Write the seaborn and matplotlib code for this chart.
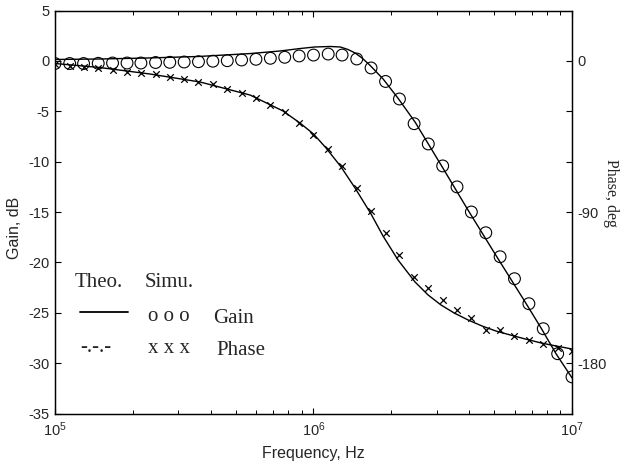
import matplotlib
matplotlib.use("Agg")
import matplotlib.pyplot as plt
import seaborn as sns
import pandas as pd
from matplotlib.ticker import LogLocator, NullFormatter, FixedLocator, FixedFormatter

# ---- data -------------------------------------------------------------
# simulated sweep frequencies (Hz)
sweep_hz = [1.00e5, 1.14e5, 1.29e5, 1.47e5, 1.67e5, 1.90e5, 2.15e5, 2.45e5,
            2.78e5, 3.16e5, 3.59e5, 4.08e5, 4.64e5, 5.27e5, 5.99e5, 6.81e5,
            7.74e5, 8.80e5, 1.00e6, 1.14e6, 1.29e6, 1.47e6, 1.67e6, 1.90e6,
            2.15e6, 2.45e6, 2.78e6, 3.16e6, 3.59e6, 4.08e6, 4.64e6, 5.27e6,
            5.99e6, 6.81e6, 7.74e6, 8.80e6, 1.00e7]
sim_gain_db = [-0.26, -0.26, -0.26, -0.24, -0.21, -0.21, -0.21, -0.16,
               -0.14, -0.11, -0.08, -0.03, 0.02, 0.09, 0.16, 0.26,
               0.36, 0.49, 0.58, 0.68, 0.58, 0.19, -0.70, -2.04,
               -3.78, -6.23, -8.24, -10.42, -12.50, -14.99, -17.05, -19.43,
               -21.61, -24.09, -26.57, -29.05, -31.35]
sim_phase_deg = [-1.8, -3.0, -3.8, -4.4, -5.4, -6.4, -7.4, -8.0,
                 -9.4, -11.0, -12.4, -14.0, -16.6, -19.3, -22.3, -26.2,
                 -30.4, -36.8, -44.1, -52.4, -62.3, -75.7, -89.6, -102.4,
                 -115.5, -128.4, -135.3, -142.6, -148.2, -153.2, -159.9, -160.2,
                 -163.8, -166.4, -168.5, -170.9, -172.5]

# theoretical response
theo_gain_hz = [1.0e5, 1.5e5, 2.3e5, 3.6e5, 5.7e5, 7.4e5, 8.9e5, 1.01e6,
                1.16e6, 1.27e6, 1.36e6, 1.45e6, 1.54e6, 1.65e6, 1.86e6, 2.12e6,
                2.47e6, 3.11e6, 3.96e6, 5.08e6, 6.58e6, 7.59e6, 8.67e6, 1.0e7]
theo_gain_db = [0.14, 0.19, 0.29, 0.44, 0.73, 0.98, 1.23, 1.38,
                1.43, 1.38, 1.13, 0.78, 0.29, -0.41, -1.80, -3.68,
                -6.06, -10.3, -14.8, -19.3, -23.9, -26.5, -29.05, -31.45]
theo_phase_hz = [1.0e5, 1.49e5, 2.33e5, 3.64e5, 5.68e5, 7.62e5, 8.87e5, 1.0e6,
                 1.118e6, 1.278e6, 1.447e6, 1.669e6, 1.857e6, 2.123e6, 2.47e6,
                 2.773e6, 3.113e6, 3.495e6, 3.96e6, 4.486e6, 5.08e6, 5.754e6,
                 6.577e6, 7.586e6, 8.67e6, 1.0e7]
theo_phase_deg = [-1.55, -3.93, -7.80, -12.56, -20.3, -29.8, -37.0, -43.5,
                  -51.8, -63.1, -75.6, -91.1, -104.2, -118.5, -131.6,
                  -139.3, -145.3, -150.0, -154.2, -157.8, -160.8, -163.1,
                  -165.5, -167.9, -169.7, -171.5]

gain_ticks = [5, 0, -5, -10, -15, -20, -25, -30, -35]
phase_ticks = [0, -30, -60, -90, -120, -150, -180]
phase_labels = ["0", "", "", "-90", "", "", "-180"]

sim = pd.DataFrame({"f": sweep_hz, "gain": sim_gain_db, "phase": sim_phase_deg})
theo_g = pd.DataFrame({"f": theo_gain_hz, "gain": theo_gain_db})
theo_p = pd.DataFrame({"f": theo_phase_hz, "phase": theo_phase_deg})

# ---- style ------------------------------------------------------------
sns.set_theme(style="white")
plt.rcParams["font.family"] = ["Liberation Sans", "DejaVu Sans"]
plt.rcParams["axes.unicode_minus"] = False
plt.rcParams["axes.edgecolor"] = "black"
plt.rcParams["axes.linewidth"] = 0.9
SERIF = ["Liberation Serif", "DejaVu Serif"]
TICK_FS = 10.5

fig = plt.figure(figsize=(6.24, 4.71), dpi=100)
ax = fig.add_axes([0.0881, 0.1217, 0.8286, 0.856])

# gain: theory line + simulated circles
sns.lineplot(data=theo_g, x="f", y="gain", ax=ax, color="black", lw=1.0)
sns.scatterplot(data=sim, x="f", y="gain", ax=ax, marker="o", s=72,
                facecolors="none", edgecolors="black", linewidth=0.8, zorder=3)

ax.set_xscale("log")
ax.set_xlim(1e5, 1e7)
ax.set_ylim(-35, 5)
ax.set_yticks(gain_ticks)
ax.xaxis.set_major_locator(LogLocator(base=10))
ax.xaxis.set_minor_locator(LogLocator(base=10, subs=range(2, 10)))
ax.xaxis.set_minor_formatter(NullFormatter())
ax.tick_params(axis="x", which="both", direction="in", top=True, bottom=True,
               color="black", labelsize=TICK_FS, pad=5)
ax.tick_params(axis="x", which="major", length=4, width=0.8)
ax.tick_params(axis="x", which="minor", length=3, width=0.7)
ax.tick_params(axis="y", direction="in", left=True, right=False, length=4,
               width=0.8, color="black", labelsize=TICK_FS, pad=4)

ax.set_xlabel("Frequency, Hz", fontsize=11.5)
ax.set_ylabel("Gain, dB", fontsize=11.5)
ax.xaxis.set_label_coords(0.5, -0.080)
ax.yaxis.set_label_coords(-0.064, 0.46)

# phase on a twin axis
ax2 = ax.twinx()
sns.lineplot(data=theo_p, x="f", y="phase", ax=ax2, color="black", lw=1.0)
sns.scatterplot(data=sim, x="f", y="phase", ax=ax2, marker="x", s=22,
                color="black", linewidth=0.9, zorder=3)
ax2.set_xscale("log")
ax2.set_xlim(1e5, 1e7)
ax2.set_ylim(-210, 30)
ax2.yaxis.set_major_locator(FixedLocator(phase_ticks))
ax2.yaxis.set_major_formatter(FixedFormatter(phase_labels))
ax2.tick_params(axis="y", direction="in", right=True, left=False, length=4,
                width=0.8, color="black", labelsize=TICK_FS, pad=4)
ax2.set_ylabel("")
ax2.text(1.075, 0.547, "Phase, deg", transform=ax2.transAxes, rotation=-90,
         ha="center", va="center", fontsize=11.5, family=SERIF)

# hand-drawn key
ax.text(0.0387, 0.3135, "Theo.", transform=ax.transAxes, family=SERIF,
        fontsize=15, va="baseline", ha="left")
ax.text(0.174, 0.3135, "Simu.", transform=ax.transAxes, family=SERIF,
        fontsize=15, va="baseline", ha="left")
ax.plot([0.048, 0.141], [0.253, 0.253], transform=ax.transAxes,
        color="black", lw=1.3)
ax.text(0.180, 0.229, "o o o", transform=ax.transAxes, family=SERIF,
        fontsize=15, va="baseline", ha="left")
ax.text(0.306, 0.226, "Gain", transform=ax.transAxes, family=SERIF,
        fontsize=15, va="baseline", ha="left")
ax.text(0.048, 0.152, "-.-.-", transform=ax.transAxes, family=SERIF,
        fontsize=15, va="baseline", ha="left")
ax.text(0.180, 0.151, "x x x", transform=ax.transAxes, family=SERIF,
        fontsize=15, va="baseline", ha="left")
ax.text(0.313, 0.146, "Phase", transform=ax.transAxes, family=SERIF,
        fontsize=15, va="baseline", ha="left")

for a in (ax, ax2):
    for s in a.spines.values():
        s.set_color("black")
        s.set_linewidth(0.9)

fig.savefig("out.png", dpi=100)
